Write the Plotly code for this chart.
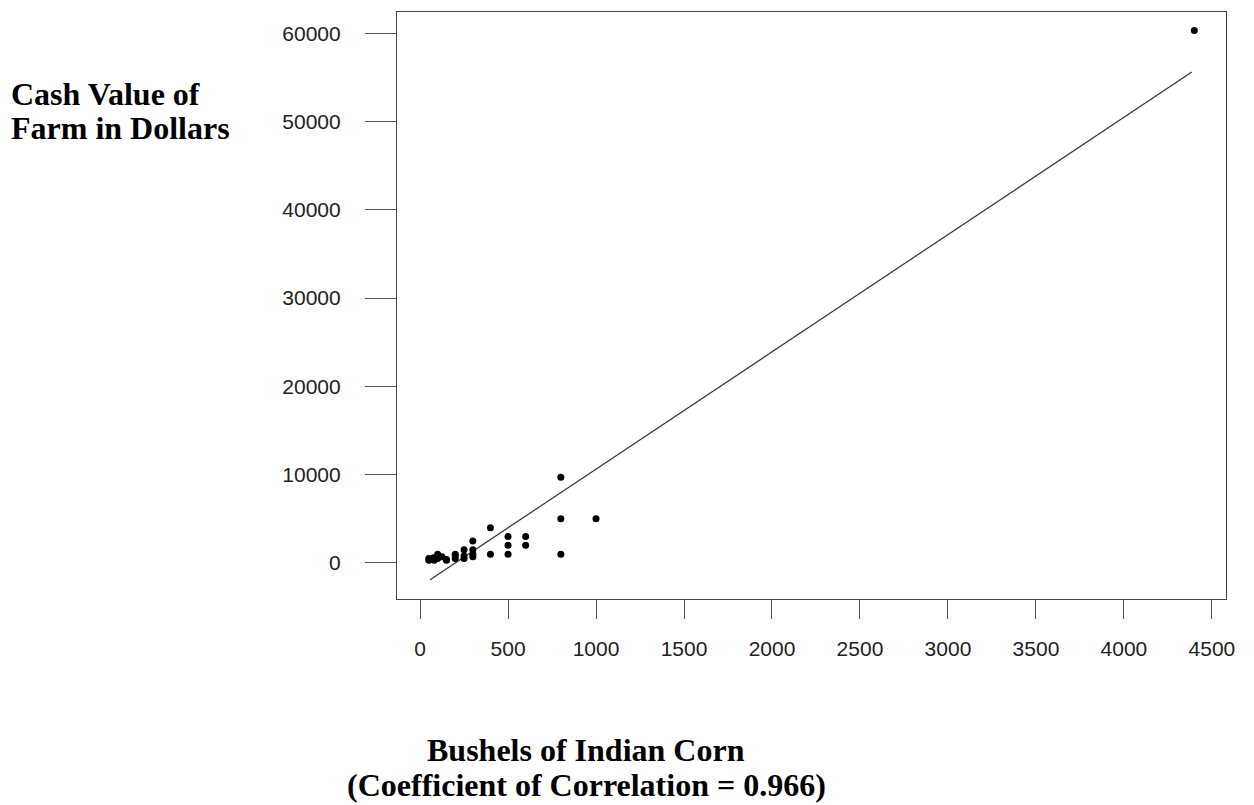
import plotly.graph_objects as go

# Data
bushels = [50, 50, 60, 75, 80, 100, 100, 100, 125, 150, 150, 200, 200, 200,
           250, 250, 250, 300, 300, 300, 300,
           400, 400, 500, 500, 500, 600, 600, 800, 800, 800, 1000, 4400]
cash_value = [300, 500, 400, 600, 300, 800, 500, 1000, 700, 400, 300, 500, 1000, 800,
              1500, 800, 500, 1500, 1000, 700, 2500,
              4000, 1000, 3000, 2000, 1000, 3000, 2000, 9700, 5000, 1000, 5000, 60300]

# Regression line
fit_x = [57, 4386]
fit_y = [-1900, 55600]

x_ticks = [0, 500, 1000, 1500, 2000, 2500, 3000, 3500, 4000, 4500]
y_ticks = [0, 10000, 20000, 30000, 40000, 50000, 60000]

y_title_lines = ["Cash Value of", "Farm in Dollars"]
x_title_lines = ["Bushels of Indian Corn", "(Coefficient of Correlation = 0.966)"]

fig = go.Figure()
fig.add_trace(go.Scatter(x=fit_x, y=fit_y, mode="lines",
                         line=dict(color="#333333", width=1.2), showlegend=False))
fig.add_trace(go.Scatter(x=bushels, y=cash_value, mode="markers",
                         marker=dict(color="black", size=7), showlegend=False))

axis_common = dict(showgrid=False, zeroline=False, showline=True, linecolor="#444444",
                   linewidth=1.2, mirror=True, ticks="outside", tickcolor="#555555",
                   tickwidth=1, tickfont=dict(family="Liberation Sans, Arial", size=21, color="#222222"))

fig.update_xaxes(range=[-131, 4580], tickvals=x_ticks, ticktext=[str(v) for v in x_ticks],
                 ticklen=19, ticklabelstandoff=12, **axis_common)
fig.update_yaxes(range=[-4080, 62400], tickvals=y_ticks, ticktext=[str(v) for v in y_ticks],
                 ticklen=31, ticklabelstandoff=20, **axis_common)

title_font = dict(family="Liberation Serif, Times New Roman", size=32, color="black")
plot_w, plot_h, left, top = 829, 587, 397, 12
for i, line in enumerate(y_title_lines):
    yc = 94 + 34 * i
    fig.add_annotation(text=f"<b>{line}</b>", xref="paper", yref="paper",
                       x=(9 - left) / plot_w, y=(top + plot_h - yc) / plot_h,
                       xanchor="left", yanchor="middle", showarrow=False, font=title_font)
for i, line in enumerate(x_title_lines):
    yc = 750 + 35 * i
    fig.add_annotation(text=f"<b>{line}</b>", xref="paper", yref="paper",
                       x=(586 - left) / plot_w, y=(top + plot_h - yc) / plot_h,
                       xanchor="center", yanchor="middle", showarrow=False, font=title_font)

fig.update_layout(width=1254, height=805, margin=dict(l=397, r=28, t=12, b=206),
                  paper_bgcolor="white", plot_bgcolor="white")

fig.write_html("out.html")
